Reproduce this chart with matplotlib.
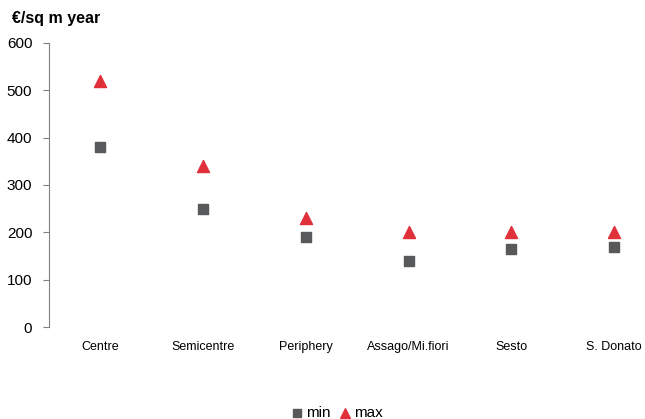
import matplotlib.pyplot as plt

plt.rcParams['font.family'] = ['Liberation Sans', 'DejaVu Sans']

categories = ['Centre', 'Semicentre', 'Periphery', 'Assago/Mi.fiori', 'Sesto', 'S. Donato']
min_vals = [380, 250, 190, 140, 165, 170]
max_vals = [520, 340, 230, 200, 200, 200]

fig = plt.figure(figsize=(6.45, 4.19), dpi=100)
ax = fig.add_axes([49/645, 92/419, (645-49)/645, 284/419])

x = range(len(categories))
ax.scatter(x, min_vals, marker='s', s=55, color='#58595B', label='min', zorder=3)
ax.scatter(x, max_vals, marker='^', s=75, color='#E0303A', label='max', zorder=3)

ax.set_xlim(-0.5, 5.3)
ax.set_ylim(0, 600)
ax.set_yticks(range(0, 601, 100))
ax.set_xticks(list(x))
ax.set_xticklabels(categories, fontsize=9)
ax.tick_params(axis='x', length=0, pad=10)
ax.tick_params(axis='y', labelsize=11, length=4, color='#808080', pad=8)

for s in ['top', 'right', 'bottom']:
    ax.spines[s].set_visible(False)
ax.spines['left'].set_color('#808080')

fig.text(12/645, 1 - 18/419, '€/sq m year', fontsize=11.5, fontweight='bold', va='center')

fig.legend(loc='lower center', bbox_to_anchor=(0.52, -0.035), ncol=2, frameon=False,
           fontsize=11, handletextpad=0.0, columnspacing=0.3, handlelength=1.2,
           markerscale=0.8)

fig.savefig('out.png', dpi=100)
